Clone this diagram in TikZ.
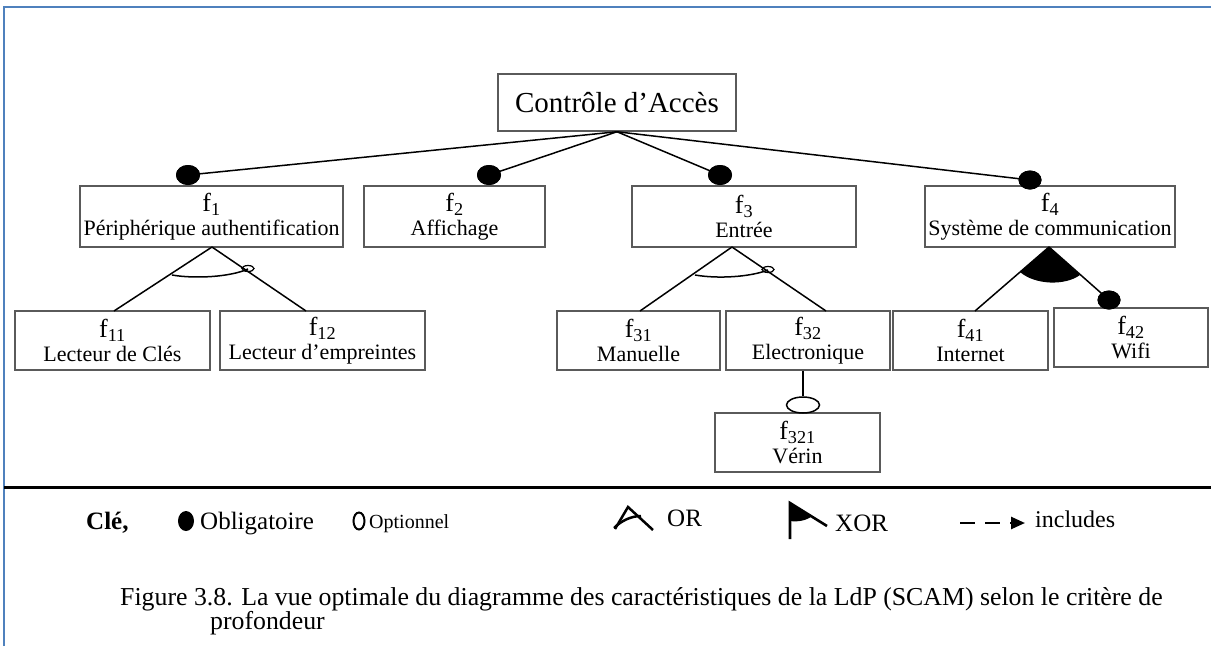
\documentclass[tikz,border=0pt]{standalone}
\usepackage{fontspec}
\setmainfont{Liberation Serif}
\usetikzlibrary{shapes.geometric,arrows.meta}
\definecolor{frameblue}{HTML}{4F81BD}
\definecolor{boxgray}{HTML}{5A5A5A}
\newcommand{\fsz}{\fontsize{26}{24}\selectfont}
\newcommand{\lsz}{\fontsize{22}{24}\selectfont}
\tikzset{
  feat/.style={draw=boxgray, line width=1.5pt, fill=white, inner sep=0pt, align=center, font=\lsz},
  lvone/.style={feat, minimum height=61pt},
  lvtwo/.style={feat, minimum height=59pt},
  conn/.style={line width=1.5pt, black},
  mand/.style={ellipse, fill=black, inner sep=0pt, minimum width=24pt, minimum height=20pt},
  mandsmall/.style={mand, minimum width=23pt, minimum height=19pt},
  opt/.style={ellipse, draw, line width=1.5pt, fill=white, inner sep=0pt, minimum width=33pt, minimum height=16pt},
  legtext/.style={font=\fontsize{25}{25}\selectfont, inner sep=0pt, anchor=base west},
  captext/.style={font=\fontsize{25.8}{26}\selectfont, inner sep=0pt, anchor=base west},
}
\begin{document}
\begin{tikzpicture}[x=1pt,y=-1pt]
\useasboundingbox (0,0) rectangle (1211,646);
\fill[white] (0,0) rectangle (1211,646);
% frame
\draw[frameblue, line width=2pt] (4,646) -- (4,7) -- (1211,7);
\draw[black, line width=3pt] (4,487) -- (1211,487);

% root
\node[feat, minimum width=238pt, minimum height=57pt, font=\fontsize{29}{29}\selectfont] (root) at (617,102.5) {Contrôle d’Accès};

% level 1 boxes
\node[lvone, minimum width=263pt] (f1) at (211.5,216.5) {{\fsz f\textsubscript{1}}\\Périphérique authentification};
\node[lvone, minimum width=181pt] (f2) at (454.5,216.5) {{\fsz f\textsubscript{2}}\\Affichage};
\node[lvone, minimum width=224pt] (f3) at (744,216.5) {{\fsz f\textsubscript{3}}\\Entrée};
\node[lvone, minimum width=250pt] (f4) at (1050,216.5) {{\fsz f\textsubscript{4}}\\Système de communication};

% level 1 dots and links to root
\node[mand] (d1) at (188,175) {};
\node[mand] (d2) at (489,175) {};
\node[mand] (d3) at (720,175) {};
\node[mandsmall] (d4) at (1030,180) {};
\draw[conn] (root.south) -- (d1.center);
\draw[conn] (root.south) -- (d2.center);
\draw[conn] (root.south) -- (d3.center);
\draw[conn] (root.south) -- (d4.center);
\node[mand] at (d1.center) {};
\node[mand] at (d2.center) {};
\node[mand] at (d3.center) {};
\node[mandsmall] at (d4.center) {};

% level 2 boxes
\node[lvtwo, minimum width=195pt] (f11) at (112.5,340.5) {{\fsz f\textsubscript{11}}\\Lecteur de Clés};
\node[lvtwo, minimum width=205pt] (f12) at (322.5,340.5) {{\fsz f\textsubscript{12}}\\Lecteur d’empreintes};
\node[lvtwo, minimum width=163pt] (f31) at (638.5,340.5) {{\fsz f\textsubscript{31}}\\Manuelle};
\node[lvtwo, minimum width=164pt] (f32) at (808,340.5) {{\fsz f\textsubscript{32}}\\Electronique};
\node[lvtwo, minimum width=155pt] (f41) at (970.5,340.5) {{\fsz f\textsubscript{41}}\\Internet};
\node[lvtwo, minimum width=154pt] (f42) at (1131,337.5) {{\fsz f\textsubscript{42}}\\Wifi};
\node[lvtwo, minimum width=165pt] (f321) at (797.5,442.5) {{\fsz f\textsubscript{321}}\\Vérin};

% OR group under f1
\coordinate (a1) at (212,247);
\coordinate (t11) at (114,311);
\coordinate (t12) at (306,311);
\draw[conn] (a1) -- (t11);
\draw[conn] (a1) -- (t12);
\draw[conn] (172,275) .. controls (195,279) and (230,277) .. (248,269);
\draw[line width=1.2pt] (248,268.5) ellipse (6 and 3);

% OR group under f3
\coordinate (a3) at (732,247);
\coordinate (t31) at (640,311);
\coordinate (t32) at (826,311);
\draw[conn] (a3) -- (t31);
\draw[conn] (a3) -- (t32);
\draw[conn] (695,275) .. controls (718,279) and (750,277) .. (768,270);
\draw[line width=1.2pt] (768,269.5) ellipse (6 and 3);

% XOR group under f4
\coordinate (a4) at (1049,247);
\coordinate (t41) at (975,311);
\fill[black] (a4) -- (1020,272) .. controls (1035,285) and (1065,286) .. (1080,275) -- cycle;
\draw[conn] (a4) -- (t41);
\node[mandsmall] (d42) at (1109,300) {};
\draw[conn] (a4) -- (d42.center);
\node[mandsmall] at (d42.center) {};

% optional f32 -> f321
\node[opt] (o321) at (803,405) {};
\draw[conn] (f32.south -| o321.north) -- (o321.north);

% legend
\node[legtext, font=\bfseries\fontsize{25}{25}\selectfont] (cle) at (86,529) {Clé,};
\node[ellipse, fill=black, inner sep=0pt, minimum width=16pt, minimum height=20pt] (lmand) at (186,521) {};
\node[legtext] (lobl) at (200,529) {Obligatoire};
\node[ellipse, draw, line width=2pt, inner sep=0pt, minimum width=11pt, minimum height=17pt] (lopt) at (359,521) {};
\node[legtext, font=\fontsize{20}{20}\selectfont] (lopttext) at (369,528) {Optionnel};
% OR symbol
\draw[line width=2.5pt] (615,529) -- (628,507) -- (653,530);
\draw[line width=2.5pt] (614,528) .. controls (621,521) and (631,516) .. (641,516);
\node[legtext] (lor) at (667,526) {OR};
% XOR symbol
\fill[black] (790,503) -- (812,516) .. controls (806,521) and (797,522) .. (790,521) -- cycle;
\draw[line width=2.6pt] (790,539) -- (790,503) -- (827,526);
\node[legtext] (lxor) at (835,531) {XOR};
% includes
\coordinate (inca) at (960,523);
\coordinate (incb) at (1025,523);
\draw[line width=2.5pt, dash pattern=on 15pt off 10pt, -{Triangle[length=14pt,width=12pt]}] (inca) -- (incb);
\node[legtext, font=\fontsize{24}{24}\selectfont] (linc) at (1035,527) {includes};

% caption
\node[captext] (cap1) at (120,605) {Figure 3.8. La vue optimale du diagramme des caractéristiques de la LdP (SCAM) selon le critère de};
\node[captext] (cap2) at (210,629) {profondeur};
\end{tikzpicture}
\end{document}
